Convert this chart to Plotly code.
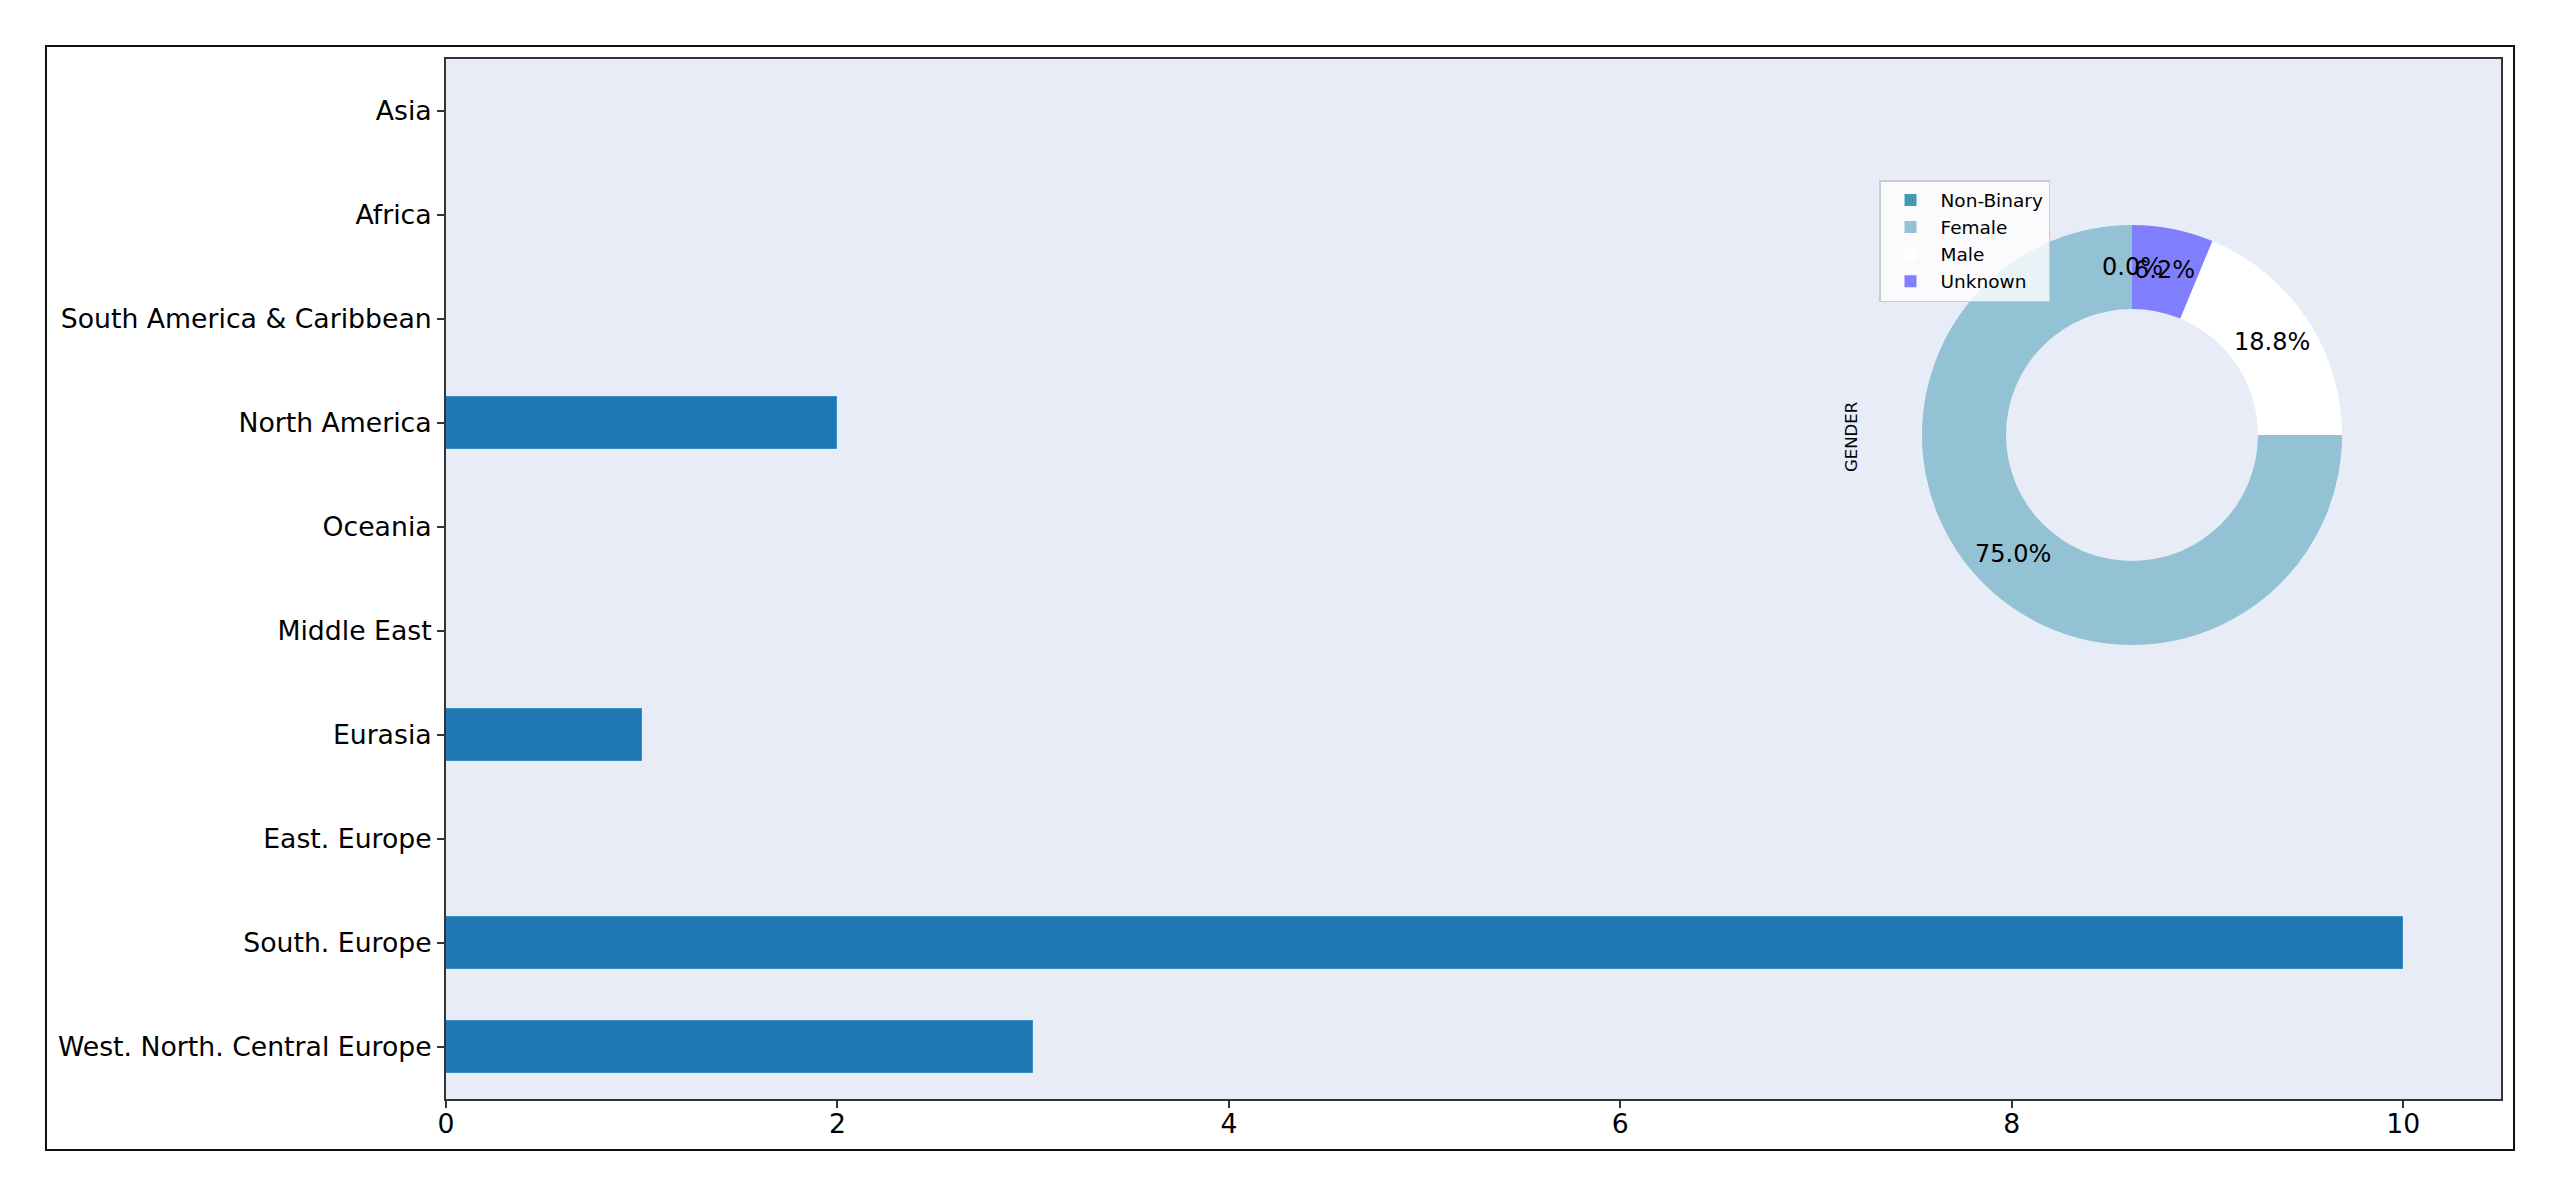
import math
import plotly.graph_objects as go

# ---- data ----
regions = ["West. North. Central Europe", "South. Europe", "East. Europe", "Eurasia",
           "Middle East", "Oceania", "North America", "South America & Caribbean",
           "Africa", "Asia"]
region_counts = [3, 10, 0, 1, 0, 0, 2, 0, 0, 0]

genders = ["Non-Binary", "Female", "Male", "Unknown"]
gender_counts = [0, 12, 3, 1]
gender_colors = ["#4499b1", "#92c2d4", "#ffffff", "#8080ff"]

x_ticks = [0, 2, 4, 6, 8, 10]

FONT = "DejaVu Sans"
W, H = 2560, 1197
L, R, T, B = 446, 59, 59, 98
PW, PH = W - L - R, H - T - B

fig = go.Figure()

fig.add_trace(go.Bar(
    y=regions, x=region_counts, orientation="h", width=0.5,
    marker=dict(color="#1f77b4", line=dict(color="#3a8cc6", width=1)),
    showlegend=False, hoverinfo="x+y",
))

# donut geometry (paper coords relative to plot area)
cx_px, cy_px, r_px = 2132, 435, 210
dx0 = (cx_px - r_px - L) / PW
dx1 = (cx_px + r_px - L) / PW
dy_top = 1 - (cy_px - r_px - T) / PH
dy_bot = 1 - (cy_px + r_px - T) / PH

fig.add_trace(go.Pie(
    labels=genders, values=gender_counts, sort=False, direction="counterclockwise",
    rotation=0, hole=0.6, marker=dict(colors=gender_colors, line=dict(width=0)),
    textinfo="none", domain=dict(x=[dx0, dx1], y=[dy_bot, dy_top]),
    showlegend=True,
))

# percentage labels placed at 0.8 radius (matplotlib autopct style)
total = sum(gender_counts)
cum = 0
cxp = (dx0 + dx1) / 2
cyp = (dy_bot + dy_top) / 2
for g, v in zip(genders, gender_counts):
    ang = math.radians(90 + 360 * (cum + v / 2) / total)
    cum += v
    fig.add_annotation(
        x=cxp + 0.8 * r_px * math.cos(ang) / PW,
        y=cyp + 0.8 * r_px * math.sin(ang) / PH,
        xref="paper", yref="paper", xanchor="center", yanchor="middle",
        text=f"{100 * v / total:.1f}%",
        showarrow=False, font=dict(family=FONT, size=24, color="black"),
    )

# GENDER label
fig.add_annotation(
    x=(1851 - L) / PW, y=1 - (437 - T) / PH, xref="paper", yref="paper",
    xanchor="center", yanchor="middle",
    text="GENDER", textangle=-90, showarrow=False,
    font=dict(family=FONT, size=16.5, color="black"),
)

# outer figure frame
fig.add_shape(type="rect", xref="paper", yref="paper",
              x0=(46 - L) / PW, x1=(2514 - L) / PW,
              y0=1 - (1150 - T) / PH, y1=1 - (46 - T) / PH,
              line=dict(color="#111111", width=2), fillcolor="rgba(0,0,0,0)", layer="below")

fig.update_layout(
    width=W, height=H,
    margin=dict(l=L, r=R, t=T, b=B, autoexpand=False),
    paper_bgcolor="white", plot_bgcolor="#e8ecf6",
    font=dict(family=FONT, size=26.7, color="black"),
    bargap=0,
    legend=dict(
        x=(1879 - L) / PW, y=1 - (180 - T) / PH, xanchor="left", yanchor="top",
        bgcolor="rgba(255,255,255,0.8)", bordercolor="#cccccc", borderwidth=1.5,
        font=dict(family=FONT, size=18.5, color="black"), itemwidth=50,
    ),
    xaxis=dict(
        range=[0, 10.5], tickvals=x_ticks, ticktext=[str(t) for t in x_ticks],
        showgrid=False, zeroline=False, showline=True, mirror=True,
        linecolor="#333333", linewidth=2, ticks="outside", ticklen=7, tickwidth=1.5,
        tickcolor="#333333", tickfont=dict(family=FONT, size=26.7, color="black"),
        ticklabelstandoff=-7,
    ),
    yaxis=dict(
        range=[-0.5, 9.5], categoryorder="array", categoryarray=regions,
        showgrid=False, zeroline=False, showline=True, mirror=True,
        linecolor="#333333", linewidth=2, ticks="outside", ticklen=7, tickwidth=1.5,
        tickcolor="#333333", tickfont=dict(family=FONT, size=26.7, color="black"),
    ),
)

fig.write_html("out.html", config={"displayModeBar": False},
               post_script="document.body.style.margin='0';")
